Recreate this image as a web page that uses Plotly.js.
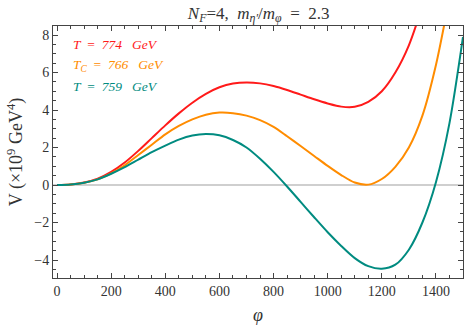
<!DOCTYPE html>
<html>
<head>
<meta charset="utf-8">
<script src="https://cdn.plot.ly/plotly-3.0.1.min.js"></script>
<style>
  html, body { margin: 0; padding: 0; background: #fff; }
  #chart { width: 466px; height: 336px; }
</style>
</head>
<body>
<div id="chart"></div>
<script>
// potential V(phi), in units of 1e9 GeV^4
var phiHigh = [0, 50, 100, 150, 200, 250, 300, 350, 400, 450, 500, 550, 600, 650, 700, 750,
  800, 850, 900, 950, 1000, 1050, 1100, 1150, 1200, 1250, 1300, 1350];
var vHigh = [0, 0.03, 0.13, 0.34, 0.7, 1.2, 1.82, 2.5, 3.18, 3.82, 4.39, 4.86, 5.21, 5.41, 5.47, 5.42,
  5.28, 5.07, 4.82, 4.57, 4.35, 4.18, 4.17, 4.43, 5.0, 6.0, 7.45, 9.55];

var phiCrit = [0, 50, 100, 150, 200, 250, 300, 350, 400, 450, 500, 550, 600, 650, 700, 750,
  800, 850, 900, 950, 1000, 1050, 1100, 1150, 1200, 1250, 1300, 1350, 1400, 1450];
var vCrit = [0, 0.03, 0.12, 0.3, 0.62, 1.05, 1.6, 2.15, 2.7, 3.15, 3.5, 3.75, 3.86, 3.83, 3.7, 3.46,
  3.1, 2.6, 2.08, 1.55, 1.02, 0.53, 0.13, 0.02, 0.32, 0.97, 2.0, 3.7, 6.4, 10.0];

var phiLow = [0, 50, 100, 150, 200, 250, 300, 350, 400, 450, 500, 550, 600, 650, 700, 750,
  800, 850, 900, 950, 1000, 1050, 1100, 1150, 1200, 1250, 1300, 1350, 1400, 1450, 1500];
var vLow = [0, 0.03, 0.12, 0.3, 0.6, 0.95, 1.35, 1.75, 2.1, 2.42, 2.64, 2.72, 2.65, 2.4, 2.0, 1.4,
  0.7, -0.08, -0.9, -1.72, -2.52, -3.25, -3.9, -4.33, -4.47, -4.25, -3.45, -2.0, 0.15, 3.3, 7.9];

var NB = "\u00A0";
var labels = [
  "<i>T</i>" + NB + NB + "=" + NB + NB + "<i>774" + NB + NB + NB + "GeV</i>",
  "<i>T<sub>C</sub></i>" + NB + NB + "=" + NB + NB + "<i>766" + NB + NB + NB + "GeV</i>",
  "<i>T</i>" + NB + NB + "=" + NB + NB + "<i>759" + NB + NB + NB + "GeV</i>"
];
var colors = ["#ff1a1a", "#ff8c00", "#008b80"];

var SERIF = "Liberation Serif, DejaVu Serif, serif";

var curve = function(x, y, color) {
  return {
    type: "scatter",
    mode: "lines",
    x: x,
    y: y,
    line: { color: color, width: 2, shape: "spline", smoothing: 0.8 },
    hoverinfo: "none",
    showlegend: false
  };
};

var data = [
  curve(phiHigh, vHigh, colors[0]),
  curve(phiCrit, vCrit, colors[1]),
  curve(phiLow, vLow, colors[2])
];

var axisStyle = {
  showline: true,
  linecolor: "#444",
  linewidth: 1,
  mirror: "allticks",
  ticks: "inside",
  ticklen: 5,
  tickcolor: "#444",
  showgrid: false,
  tickfont: { family: SERIF, size: 14, color: "#333" }
};

var annotations = labels.map(function(text, i) {
  return {
    xref: "paper", yref: "paper",
    x: 0.045, y: 0.925 - i * 0.083,
    xanchor: "left", yanchor: "middle",
    text: text,
    showarrow: false,
    font: { family: SERIF, size: 13.5, color: colors[i] }
  };
});

var layout = {
  width: 466,
  height: 336,
  margin: { l: 53, r: 3, t: 26, b: 58 },
  paper_bgcolor: "#fff",
  plot_bgcolor: "#fff",
  title: {
    text: "<i>N<sub>F</sub></i>=4," + NB + NB + "<i>m<sub>η′</sub></i>/<i>m<sub>φ</sub></i>" + NB + NB + "=" + NB + NB + "2.3",
    font: { family: SERIF, size: 17, color: "#333" },
    x: 0.555, xanchor: "center", y: 0.962, yanchor: "middle"
  },
  xaxis: Object.assign({}, axisStyle, {
    range: [-15, 1500],
    tickvals: [0, 200, 400, 600, 800, 1000, 1200, 1400],
    zeroline: false,
    minor: { dtick: 50, tick0: 0, ticks: "inside", ticklen: 3, tickcolor: "#444" },
    title: { text: "<i>φ</i>", font: { family: SERIF, size: 18, color: "#333" }, standoff: 10 }
  }),
  yaxis: Object.assign({}, axisStyle, {
    range: [-4.96, 8.48],
    tickvals: [-4, -2, 0, 2, 4, 6, 8],
    zeroline: true,
    zerolinecolor: "#cfcfcf",
    zerolinewidth: 1.5,
    minor: { dtick: 0.5, tick0: 0, ticks: "inside", ticklen: 3, tickcolor: "#444" },
    title: { text: "V (×10<sup>9</sup> GeV<sup>4</sup>)", font: { family: SERIF, size: 18, color: "#333" }, standoff: 6 }
  }),
  annotations: annotations
};

Plotly.newPlot("chart", data, layout, { displayModeBar: false, staticPlot: true });
</script>
</body>
</html>
